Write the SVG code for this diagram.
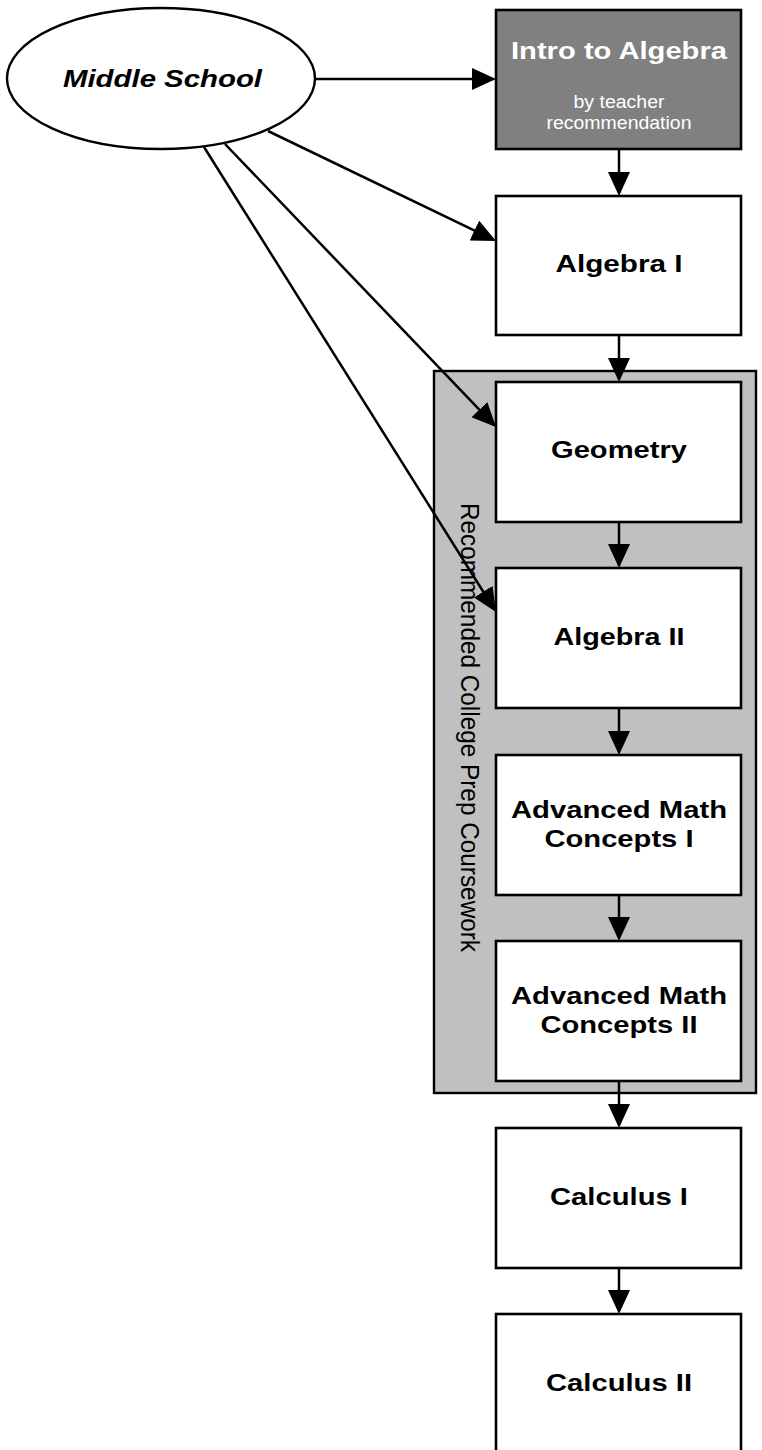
<svg xmlns="http://www.w3.org/2000/svg" width="762" height="1450" viewBox="0 0 762 1450">
<style>
.box{fill:#ffffff;stroke:#000000;stroke-width:2.6}
.dark{fill:#808080;stroke:#000000;stroke-width:2.6}
.lbl{font-family:"Liberation Sans",Arial,sans-serif;font-weight:bold;font-size:24px;fill:#000000;text-anchor:middle}
.wlbl{font-family:"Liberation Sans",Arial,sans-serif;font-weight:bold;font-size:23px;fill:#ffffff;text-anchor:middle}
.wsub{font-family:"Liberation Sans",Arial,sans-serif;font-size:18px;fill:#ffffff;text-anchor:middle}
.edge{fill:none;stroke:#000000;stroke-width:2.5}
</style>
<defs>
<marker id="ah" markerUnits="userSpaceOnUse" markerWidth="24" markerHeight="22" refX="21" refY="11" orient="auto" viewBox="0 0 24 22">
<path d="M0,0 L24,11 L0,22 Z" fill="#000000"/>
</marker>
</defs>
<g id="cluster-college-prep">
<rect x="434" y="371" width="322" height="722" fill="#c0c0c0" stroke="#000000" stroke-width="2.4"/>
<text x="461" y="503" transform="rotate(90 461 503)" font-family="'Liberation Sans',Arial,sans-serif" font-size="25" fill="#000000" textLength="449" lengthAdjust="spacingAndGlyphs">Recommended College Prep Coursework</text>
</g>
<g id="middle-school">
<ellipse cx="161" cy="78.5" rx="154" ry="70.5" fill="#ffffff" stroke="#000000" stroke-width="2.4"/>
<text x="162.5" y="87" font-family="'Liberation Sans',Arial,sans-serif" font-weight="bold" font-style="italic" font-size="24" text-anchor="middle" textLength="199" lengthAdjust="spacingAndGlyphs">Middle School</text>
</g>
<g id="intro-to-algebra">
<rect class="dark" x="496" y="10" width="245" height="139"/>
<text class="wlbl" x="619" y="59" textLength="216" lengthAdjust="spacingAndGlyphs">Intro to Algebra</text>
<text class="wsub" x="619" y="108" textLength="91" lengthAdjust="spacingAndGlyphs">by teacher</text>
<text class="wsub" x="619" y="129" textLength="145" lengthAdjust="spacingAndGlyphs">recommendation</text>
</g>
<g id="algebra-1">
<rect class="box" x="496" y="196" width="245" height="139"/>
<text class="lbl" x="619" y="272" textLength="127" lengthAdjust="spacingAndGlyphs">Algebra I</text>
</g>
<g id="geometry">
<rect class="box" x="496" y="382" width="245" height="140"/>
<text class="lbl" x="619" y="458" textLength="136" lengthAdjust="spacingAndGlyphs">Geometry</text>
</g>
<g id="algebra-2">
<rect class="box" x="496" y="568" width="245" height="140"/>
<text class="lbl" x="619" y="645" textLength="131" lengthAdjust="spacingAndGlyphs">Algebra II</text>
</g>
<g id="adv-math-1">
<rect class="box" x="496" y="755" width="245" height="140"/>
<text class="lbl" x="619" y="818" textLength="216" lengthAdjust="spacingAndGlyphs">Advanced Math</text>
<text class="lbl" x="619" y="847" textLength="149" lengthAdjust="spacingAndGlyphs">Concepts I</text>
</g>
<g id="adv-math-2">
<rect class="box" x="496" y="941" width="245" height="140"/>
<text class="lbl" x="619" y="1004" textLength="216" lengthAdjust="spacingAndGlyphs">Advanced Math</text>
<text class="lbl" x="619" y="1033" textLength="157" lengthAdjust="spacingAndGlyphs">Concepts II</text>
</g>
<g id="calculus-1">
<rect class="box" x="496" y="1128" width="245" height="140"/>
<text class="lbl" x="619" y="1205" textLength="138" lengthAdjust="spacingAndGlyphs">Calculus I</text>
</g>
<g id="calculus-2">
<rect class="box" x="496" y="1314" width="245" height="140"/>
<text class="lbl" x="619" y="1391" textLength="146" lengthAdjust="spacingAndGlyphs">Calculus II</text>
</g>
<g id="connectors">
<path class="edge" d="M315,79 L493,79" marker-end="url(#ah)"/>
<path class="edge" d="M268,131 L493.3,239.7" marker-end="url(#ah)"/>
<path class="edge" d="M225,144 L493.9,424.8" marker-end="url(#ah)"/>
<path class="edge" d="M204,147 L494.4,609.5" marker-end="url(#ah)"/>
<path class="edge" d="M619,149 L619,193" marker-end="url(#ah)"/>
<path class="edge" d="M619,335 L619,379" marker-end="url(#ah)"/>
<path class="edge" d="M619,522 L619,565" marker-end="url(#ah)"/>
<path class="edge" d="M619,708 L619,752" marker-end="url(#ah)"/>
<path class="edge" d="M619,895 L619,938" marker-end="url(#ah)"/>
<path class="edge" d="M619,1081 L619,1125" marker-end="url(#ah)"/>
<path class="edge" d="M619,1268 L619,1311" marker-end="url(#ah)"/>
</g>
</svg>
